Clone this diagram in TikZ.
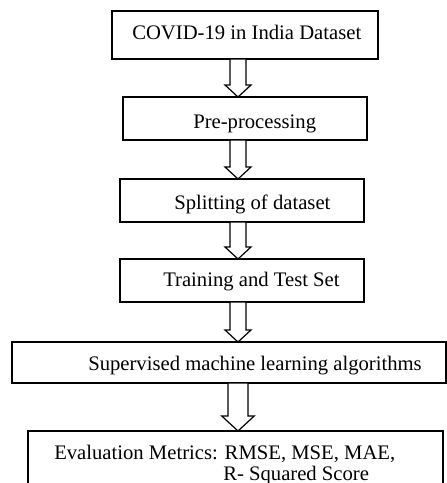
\documentclass[tikz,border=0pt]{standalone}
\usepackage{fontspec}
\setmainfont{Liberation Serif}
\usetikzlibrary{calc}

\tikzset{
	box/.style={draw, line width=1pt, inner sep=0, outer sep=0},
	lbl/.style={anchor=base west, inner sep=0, font=\fontsize{15.5}{18}\selectfont},
	hollow/.style={draw, line width=0.9pt, fill=white, line join=miter}
}

% hollow block arrow from the bottom of #2 to the top of #3
\newcommand{\downarr}[3][1]{%
	\draw [hollow] let \p1=(#2.south -| ax), \p2=(#3.north -| ax) in
		(\x1-6pt*#1,\y1) -- (\x1+6pt*#1,\y1) -- (\x1+6pt*#1,\y2+9pt*#1)
		-- (\x1+9.75pt*#1,\y2+9pt*#1) -- (\x1,\y2) -- (\x1-9.75pt*#1,\y2+9pt*#1)
		-- (\x1-6pt*#1,\y2+9pt*#1) -- cycle;}

\begin{document}
\begin{tikzpicture}[x=0.75pt, y=-0.75pt]
	\useasboundingbox (0,0) rectangle (447,483);
	\clip (0,0) rectangle (447,483);
	\coordinate (ax) at (238,0);

	\node [box, minimum width=199.5pt, minimum height=36pt] (b1) at (245,35) {};
	\node [box, minimum width=183pt, minimum height=32.25pt] (b2) at (245,118.5) {};
	\node [box, minimum width=183pt, minimum height=32.25pt] (b3) at (242,200.5) {};
	\node [box, minimum width=183pt, minimum height=32.25pt] (b4) at (242,280.5) {};
	\node [box, minimum width=325.5pt, minimum height=30.75pt] (b5) at (229,362.5) {};
	\node [box, minimum width=311.25pt, minimum height=48pt] (b6) at (235.5,463) {};

	\node [lbl] (t1) at (132,39) {COVID-19 in India Dataset};
	\node [lbl] (t2) at (193,128) {Pre-processing};
	\node [lbl] (t3) at (174,209) {Splitting of dataset};
	\node [lbl] (t4) at (163,286.5) {Training and Test Set};
	\node [lbl] (t5) at (88,370.5) {Supervised machine learning algorithms};
	\node [lbl] (t6) at (54,459) {Evaluation Metrics: RMSE, MSE, MAE,};
	\node [lbl] (t7) at (223,480.5) {R- Squared Score};

	\downarr{b1}{b2}
	\downarr{b2}{b3}
	\downarr{b3}{b4}
	\downarr{b4}{b5}
	\downarr[1.25]{b5}{b6}
\end{tikzpicture}
\end{document}
